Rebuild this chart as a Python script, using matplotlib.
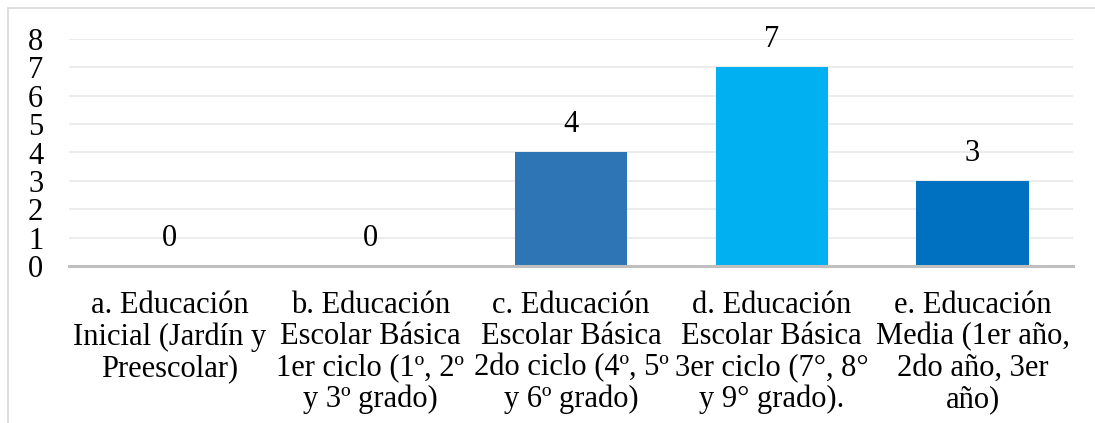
import matplotlib
matplotlib.use("Agg")
import matplotlib.pyplot as plt
from matplotlib.patches import Rectangle

categories = [
    "a. Educación\nInicial (Jardín y\nPreescolar)",
    "b. Educación\nEscolar Básica\n1er ciclo (1º, 2º\ny 3º grado)",
    "c. Educación\nEscolar Básica\n2do ciclo (4º, 5º\ny 6º grado)",
    "d. Educación\nEscolar Básica\n3er ciclo (7°, 8°\ny 9° grado).",
    "e. Educación\nMedia (1er año,\n2do año, 3er\naño)",
]
values = [0, 0, 4, 7, 3]
colors = ["#2E75B6", "#2E75B6", "#2E75B6", "#00B0F0", "#0070C0"]
yticks = [0, 1, 2, 3, 4, 5, 6, 7, 8]

plt.rcParams['font.family'] = ['Liberation Serif', 'DejaVu Serif']

W, H = 1095, 423
fig = plt.figure(figsize=(W/100, H/100), dpi=100)
fig.patches.append(Rectangle((8/W, -0.1), 1.2, (H-8)/H + 0.1, transform=fig.transFigure,
                             fill=False, edgecolor="#D9D9D9", linewidth=1.2))

ax = fig.add_axes([69/W, (H-266)/H, (1073-69)/W, (266-39)/H])
x = list(range(len(categories)))
bars = ax.bar(x, values, width=0.56, color=colors, zorder=2)
ax.set_xlim(-0.5, len(categories)-0.5)
ax.set_ylim(0, 8)
ax.set_yticks(yticks)
ax.set_yticklabels([str(v) for v in yticks], fontsize=22)
ax.set_xticks(x)
ax.set_xticklabels(categories, fontsize=22, linespacing=1.1, va="top")
ax.tick_params(axis="y", length=0, pad=18.5)
ax.tick_params(axis="x", length=0, pad=18)
ax.yaxis.grid(True, color="#EBEBEB", linewidth=1.3, zorder=0)
ax.set_axisbelow(True)
for s in ["top", "right", "left"]:
    ax.spines[s].set_visible(False)
ax.spines["bottom"].set_color("#BFBFBF")
ax.spines["bottom"].set_linewidth(2.2)
ax.spines["bottom"].set_zorder(3)

for xi, v in zip(x, values):
    ax.annotate(str(v), (xi, v), xytext=(0, 9.5), textcoords="offset points",
                ha="center", va="bottom", fontsize=22)

fig.savefig("out.png", dpi=100)
